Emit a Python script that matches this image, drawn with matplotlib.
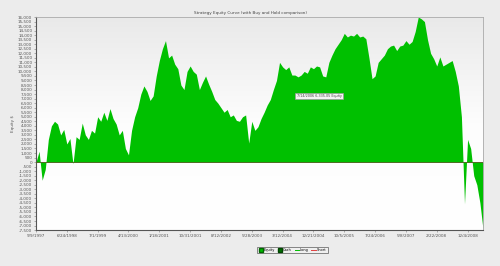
import numpy as np
import matplotlib
matplotlib.use("Agg")
import matplotlib.pyplot as plt
from matplotlib.lines import Line2D
from matplotlib.colors import LinearSegmentedColormap

# ---- data (equity, sampled evenly along the bar axis; 10 samples per date label) ----
equity = [0, 1200, -2000, -800, 2500, 4000, 4500, 4200, 3000, 3600,
          2000, 2600, -200, 2800, 2500, 4300, 3000, 2500, 3500, 3200,
          5000, 4500, 5500, 4600, 5900, 4800, 4200, 3000, 3500, 1500,
          800, 3500, 5000, 6000, 7500, 8400, 7800, 6800, 7300, 9500,
          11200, 12500, 13400, 11500, 11800, 10800, 10300, 8500, 8000, 10000,
          10600, 10000, 9700, 8000, 8800, 9500, 8600, 7800, 6900, 6500,
          6000, 5500, 5800, 5000, 5200, 4600, 4500, 5000, 5200, 2100,
          4500, 3500, 3900, 4800, 5500, 6300, 6900, 8000, 9000, 11000,
          10500, 10200, 10500, 9600, 9600, 9400, 9600, 10000, 9800, 10500,
          10300, 10600, 10500, 9500, 9400, 11000, 11800, 12500, 13000, 13500,
          14200, 13800, 14000, 13900, 14200, 13800, 13900, 13600, 11500, 9200,
          9500, 11000, 11400, 11800, 12500, 12800, 12900, 12300, 12800, 12900,
          13400, 13000, 13300, 14400, 16000, 15800, 15500, 13500, 12000, 11400,
          10600, 11600, 10600, 10800, 11000, 11200, 10000, 8400, 5000, -4600,
          2500, 1500, -1500, -2500, -4500, -7400]
date_labels = ["9/9/1997", "6/24/1998", "7/1/1999", "4/13/2000", "1/18/2001",
               "10/31/2001", "8/12/2002", "5/28/2003", "3/12/2004", "12/21/2004",
               "10/5/2005", "7/24/2006", "5/8/2007", "2/22/2008", "12/4/2008"]
samples_per_label = 10
tooltip_text = "7/14/2006 6,335.05 Equity"
legend_labels = ["Equity", "Cash", "Long", "Short"]
title = "Strategy Equity Curve (with Buy and Hold comparison)"

# ---- figure ----
fig = plt.figure(figsize=(5.0, 2.66), dpi=100)
fig.patch.set_facecolor("#ECECEC")
ax = fig.add_axes([0.072, 0.135, 0.894, 0.801])

x = np.arange(len(equity))
y = np.array(equity, dtype=float)

# gradient background
ymin, ymax = -7500, 16000
grad = np.linspace(0, 1, 256).reshape(-1, 1)
cmap = LinearSegmentedColormap.from_list("bg", ["#FFFFFF", "#FDFDFD", "#E9E9E9"])
ax.imshow(grad, aspect="auto", cmap=cmap, origin="lower",
          extent=[0, len(equity) - 1, ymin, ymax], zorder=0)

ax.fill_between(x, 0, y, color="#00C000", linewidth=0, zorder=2)
ax.axhline(0, color="#4f6b22", linewidth=0.7, zorder=3)

ax.set_xlim(0, len(equity) - 1)
ax.set_ylim(ymin, ymax)

yt = np.arange(-7500, 16001, 500)
ax.set_yticks(yt)
ax.set_yticklabels([f"{v:,}" for v in yt], fontsize=3, color="#555555")
xt = np.arange(len(date_labels)) * samples_per_label
ax.set_xticks(xt)
ax.set_xticklabels(date_labels, fontsize=3, color="#555555")
ax.tick_params(axis="both", length=1.2, width=0.4, pad=1.5, color="#777777")

for s in ["left", "bottom"]:
    ax.spines[s].set_color("#555555")
    ax.spines[s].set_linewidth(0.8)
for s in ["right", "top"]:
    ax.spines[s].set_color("#AAAAAA")
    ax.spines[s].set_linewidth(0.6)

ax.set_ylabel("Equity $", fontsize=3, color="#555555", labelpad=2)
fig.text(0.5, 0.95, title, fontsize=3, color="#444444", ha="center", va="center")

# tooltip
fig.text(0.638, 0.639, tooltip_text, fontsize=2.4,
         color="#444444", ha="center", va="center", zorder=5,
         bbox=dict(boxstyle="square,pad=0.4", fc="#F4F4F4", ec="#999999", lw=0.5))

# legend
handles = [
    Line2D([], [], marker="s", color="none", markerfacecolor="#00C000",
           markeredgecolor="#006600", markersize=2.5),
    Line2D([], [], marker="s", color="none", markerfacecolor="#007000",
           markeredgecolor="#004400", markersize=2.5),
    Line2D([], [], color="#00C000", lw=0.7),
    Line2D([], [], color="#E04040", lw=0.7),
]
leg = fig.legend(handles, legend_labels, loc="center", bbox_to_anchor=(0.585, 0.06),
                 ncol=4, fontsize=2.5, frameon=True, handlelength=1.2,
                 handletextpad=0.3, columnspacing=0.8, borderpad=0.4)
leg.get_frame().set_facecolor("#F2F2F2")
leg.get_frame().set_edgecolor("#555555")
leg.get_frame().set_linewidth(0.6)

fig.savefig("out.png", dpi=100, facecolor=fig.get_facecolor())
